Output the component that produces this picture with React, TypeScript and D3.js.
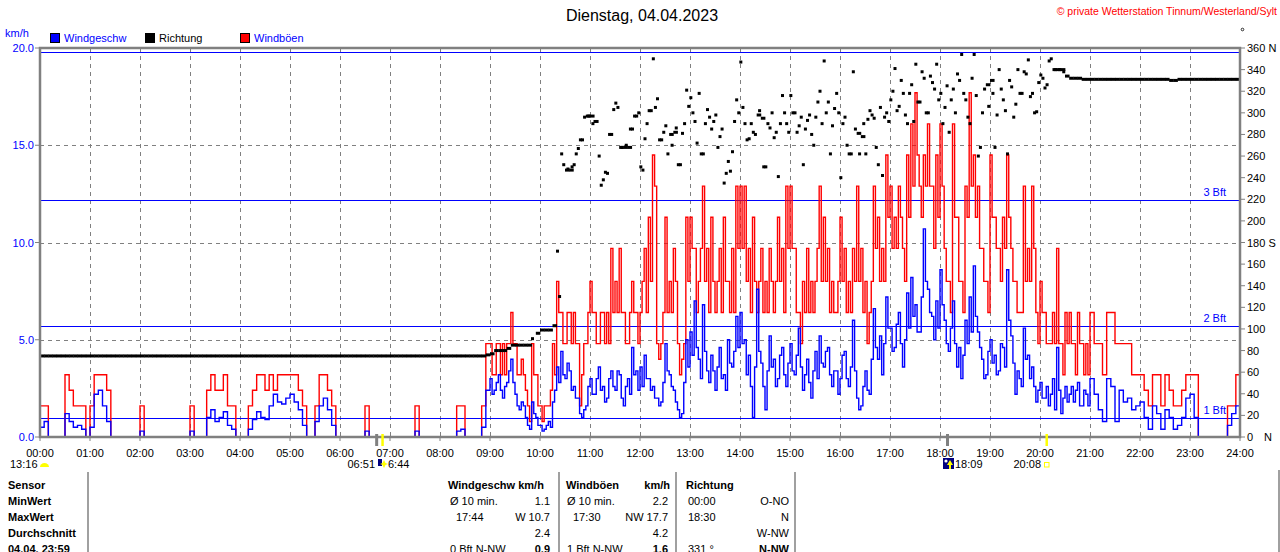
import React from 'react';
import * as d3 from 'd3';

// 5-Minuten-Werte, 00:00 bis 23:55 (je Zeile eine Stunde)
const STEP = 5;

const windboeen = [
  1.6, 1.6, 0, 0, 0, 0, 3.2, 2.4, 1.6, 1.6, 1.6, 0,
  1.6, 3.2, 3.2, 3.2, 2.4, 0, 0, 0, 0, 0, 0, 0,
  1.6, 0, 0, 0, 0, 0, 0, 0, 0, 0, 0, 0,
  1.6, 0, 0, 0, 2.4, 3.2, 2.4, 2.4, 3.2, 1.6, 1.6, 0,
  0, 0, 1.6, 2.4, 3.2, 3.2, 2.4, 3.2, 2.4, 3.2, 3.2, 3.2,
  3.2, 3.2, 2.4, 1.6, 0, 0, 1.6, 3.2, 3.2, 2.4, 1.6, 0,
  0, 0, 0, 0, 0, 0, 1.6, 0, 0, 0, 0, 0,
  0, 0, 0, 0, 0, 0, 1.6, 0, 0, 0, 0, 0,
  0, 0, 0, 0, 1.6, 1.6, 0, 0, 0, 0, 1.6, 4.8,
  4.8, 3.2, 4.8, 4.8, 4.8, 6.4, 4.8, 3.2, 3.2, 1.6, 4.8, 3.2,
  1.6, 1.6, 1.6, 4.8, 8.0, 6.4, 4.8, 6.4, 6.4, 4.8, 3.2, 4.8,
  8.0, 6.4, 4.8, 6.4, 6.4, 9.7, 8.0, 9.7, 6.4, 4.8, 8.0, 6.4,
  6.4, 9.7, 11.3, 14.5, 4.8, 4.8, 11.3, 8.0, 9.7, 4.8, 4.0, 11.3,
  11.3, 9.7, 8.0, 12.9, 9.7, 11.3, 6.4, 9.7, 11.3, 8.0, 9.7, 12.9,
  12.9, 12.9, 9.7, 11.3, 6.4, 9.7, 8.0, 9.7, 6.4, 11.3, 9.7, 12.9,
  12.9, 9.7, 6.4, 8.0, 9.7, 8.0, 8.0, 12.9, 11.3, 9.7, 8.0, 6.4,
  11.3, 9.7, 8.0, 9.7, 12.9, 9.7, 8.0, 6.4, 12.9, 11.3, 9.7, 14.5,
  12.9, 11.3, 12.9, 9.7, 14.5, 16.1, 17.7, 12.9, 14.5, 16.1, 12.9, 14.5,
  16.1, 9.7, 8.0, 16.1, 11.3, 8.0, 12.9, 17.7, 14.5, 12.9, 9.7, 8.0,
  14.5, 11.3, 9.7, 11.3, 14.5, 9.7, 8.0, 6.4, 12.9, 9.7, 12.9, 6.4,
  8.0, 6.4, 4.8, 6.4, 9.7, 4.8, 6.4, 6.4, 4.8, 6.4, 4.8, 4.8,
  6.4, 4.8, 4.8, 3.2, 6.4, 6.4, 4.8, 4.8, 4.8, 4.8, 3.2, 3.2,
  3.2, 2.4, 1.6, 3.2, 3.2, 1.6, 3.2, 2.4, 1.6, 1.6, 2.4, 3.2,
  3.2, 3.2, 0, 0, 0, 0, 0, 0, 0, 1.6, 1.6, 3.2,
];

const windgeschw = [
  0.5, 0.8, 0, 0, 0, 0, 1.2, 0.8, 0.5, 0.6, 0.4, 0,
  0.5, 2.2, 2.4, 1.6, 0.8, 0, 0, 0, 0, 0, 0, 0,
  0.3, 0, 0, 0, 0, 0, 0, 0, 0, 0, 0, 0,
  0.3, 0, 0, 0, 1.0, 1.4, 0.8, 1.0, 1.3, 0.6, 0.4, 0,
  0, 0, 0.4, 0.9, 1.3, 1.0, 0.9, 1.6, 2.2, 1.8, 1.7, 2.0,
  2.2, 1.8, 1.4, 0.6, 0, 0, 0.8, 1.6, 2.0, 1.4, 0.6, 0,
  0, 0, 0, 0, 0, 0, 0.3, 0, 0, 0, 0, 0,
  0, 0, 0, 0, 0, 0, 0.3, 0, 0, 0, 0, 0,
  0, 0, 0, 0, 0.3, 0.4, 0, 0, 0, 0, 0.5, 2.4,
  3.0, 2.4, 3.2, 2.0, 2.8, 4.0, 2.2, 1.4, 1.6, 0.6, 1.8, 1.0,
  0.6, 0.4, 0.8, 1.8, 3.6, 4.4, 3.0, 3.4, 2.6, 2.0, 1.0, 1.6,
  3.0, 2.2, 3.6, 2.6, 2.0, 3.4, 2.4, 3.2, 1.6, 3.0, 4.6, 3.4,
  3.6, 4.2, 3.0, 2.6, 2.0, 1.8, 4.8, 3.2, 2.4, 1.4, 1.2, 5.0,
  5.4, 7.0, 4.0, 6.8, 3.4, 4.2, 2.4, 4.6, 3.2, 5.0, 3.6, 6.2,
  6.4, 5.0, 4.2, 1.0, 7.6, 3.8, 1.4, 5.2, 4.0, 3.0, 4.6, 2.6,
  4.8, 3.2, 5.6, 2.4, 4.0, 2.0, 4.4, 5.2, 3.6, 4.6, 2.6, 3.4,
  3.0, 4.4, 2.6, 6.0, 2.0, 1.6, 3.4, 2.2, 6.6, 4.0, 3.2, 7.2,
  5.6, 4.6, 6.4, 3.6, 7.4, 8.2, 6.8, 5.4, 10.7, 7.6, 6.2, 7.0,
  8.6, 6.0, 4.4, 7.0, 3.6, 3.0, 6.0, 7.2, 8.8, 5.4, 4.0, 3.2,
  5.0, 4.2, 3.4, 4.6, 8.6, 5.2, 2.2, 3.0, 5.6, 4.2, 3.6, 1.8,
  2.8, 2.0, 1.6, 3.0, 4.6, 1.2, 2.6, 2.2, 1.8, 2.8, 1.6, 2.2,
  3.0, 2.2, 1.4, 0.8, 3.0, 2.6, 0.8, 2.4, 1.8, 2.0, 1.4, 1.6,
  1.8, 1.0, 0.4, 1.6, 1.2, 0.4, 1.4, 1.0, 0.4, 0.6, 1.0, 2.0,
  2.2, 1.0, 0, 0, 0, 0, 0, 0, 0, 0.6, 1.2, 1.6,
];

// Zwischenwerte 09:00 - 20:55, jeweils 2,5 min nach dem 5-Minuten-Wert
const zwischenStart = 540;
const boeenZwischen = [
  3.2, 4.8, 3.2, 3.2, 4.8, 4.8, 3.2, 4.0, 2.4, 0.8, 3.2, 1.6,
  0.8, 1.6, 2.4, 3.2, 6.4, 4.8, 6.4, 4.8, 4.8, 1.6, 4.8, 6.4,
  6.4, 4.8, 6.4, 4.8, 4.8, 6.4, 6.4, 6.4, 4.8, 6.4, 6.4, 4.8,
  8.0, 6.4, 8.0, 12.9, 4.0, 6.4, 6.4, 6.4, 8.0, 3.2, 4.8, 8.0,
  9.7, 6.4, 9.7, 8.0, 6.4, 8.0, 8.0, 6.4, 8.0, 6.4, 6.4, 9.7,
  9.7, 8.0, 6.4, 8.0, 8.0, 6.4, 6.4, 8.0, 8.0, 8.0, 6.4, 9.7,
  9.7, 6.4, 4.8, 6.4, 6.4, 6.4, 9.7, 8.0, 8.0, 6.4, 6.4, 8.0,
  8.0, 6.4, 6.4, 8.0, 8.0, 6.4, 4.8, 8.0, 9.7, 8.0, 8.0, 11.3,
  9.7, 9.7, 11.3, 8.0, 11.3, 12.9, 14.5, 11.3, 12.9, 12.9, 9.7, 11.3,
  12.9, 8.0, 6.4, 11.3, 8.0, 6.4, 11.3, 12.9, 11.3, 9.7, 8.0, 6.4,
  11.3, 9.7, 8.0, 9.7, 11.3, 8.0, 6.4, 6.4, 8.0, 8.0, 9.7, 4.8,
  6.4, 4.8, 4.8, 4.8, 4.8, 3.2, 4.8, 4.8, 3.2, 4.8, 3.2, 3.2,
];
const geschwZwischen = [
  2.2, 2.8, 2.4, 2.6, 3.4, 2.8, 1.6, 1.8, 1.0, 0.4, 1.2, 0.6,
  0.3, 0.6, 0.5, 2.4, 2.8, 3.2, 3.8, 2.4, 2.0, 1.2, 1.4, 2.6,
  2.2, 3.0, 2.4, 1.8, 3.0, 2.6, 3.4, 2.0, 2.6, 2.2, 3.2, 2.4,
  2.6, 3.0, 2.4, 2.0, 1.6, 2.8, 3.4, 2.6, 1.8, 1.0, 2.8, 3.6,
  4.2, 4.6, 3.0, 4.4, 2.8, 3.4, 3.6, 3.0, 2.4, 3.8, 4.4, 4.6,
  4.8, 3.2, 2.6, 3.6, 4.4, 2.6, 3.4, 3.6, 2.6, 4.2, 3.2, 3.8,
  3.4, 4.2, 3.6, 3.2, 2.8, 3.4, 3.0, 3.8, 4.4, 3.2, 3.4, 2.2,
  4.2, 3.0, 3.6, 3.4, 1.4, 2.6, 2.4, 4.0, 4.6, 5.2, 4.8, 5.6,
  4.4, 5.8, 4.8, 5.0, 5.6, 6.2, 5.4, 7.2, 8.0, 6.4, 5.0, 5.6,
  6.8, 4.8, 5.6, 4.8, 4.6, 4.2, 4.8, 5.4, 6.2, 4.6, 3.0, 4.4,
  3.8, 3.2, 4.8, 3.6, 6.0, 3.8, 3.4, 2.6, 4.0, 3.0, 2.6, 2.4,
  2.0, 2.6, 2.2, 1.4, 2.4, 2.0, 1.8, 2.6, 2.4, 1.6, 2.4, 1.6,
];

// Richtung in Grad
const richtung = [
  75, 75, 75, 75, 75, 75, 75, 75, 75, 75, 75, 75,
  75, 75, 75, 75, 75, 75, 75, 75, 75, 75, 75, 75,
  75, 75, 75, 75, 75, 75, 75, 75, 75, 75, 75, 75,
  75, 75, 75, 75, 75, 75, 75, 75, 75, 75, 75, 75,
  75, 75, 75, 75, 75, 75, 75, 75, 75, 75, 75, 75,
  75, 75, 75, 75, 75, 75, 75, 75, 75, 75, 75, 75,
  75, 75, 75, 75, 75, 75, 75, 75, 75, 75, 75, 75,
  75, 75, 75, 75, 75, 75, 75, 75, 75, 75, 75, 75,
  75, 75, 75, 75, 75, 75, 75, 75, 75, 75, 75, 76,
  77, 80, 80, 80, 82, 85, 85, 85, 85, 85, 91, 96,
  99, 99, 99, 103, 172, 262, 247, 247, 252, 267, 275, 297,
  297, 292, 260, 238, 244, 280, 309, 268, 268, 268, 285, 297,
  250, 276, 302, 350, 313, 275, 288, 280, 282, 252, 281, 321,
  314, 292, 318, 262, 303, 285, 298, 278, 235, 255, 264, 312,
  347, 290, 276, 282, 298, 295, 250, 286, 277, 241, 316, 290,
  316, 300, 288, 252, 293, 280, 296, 320, 348, 310, 288, 318,
  240, 296, 262, 338, 281, 278, 262, 302, 295, 252, 242, 300,
  312, 341, 306, 318, 290, 326, 345, 310, 332, 300, 328, 345,
  318, 305, 282, 322, 336, 354, 312, 290, 354, 260, 300, 326,
  330, 268, 340, 312, 262, 324, 308, 318, 338, 349, 318, 301,
  335, 323, 348, 340, 340, 340, 334, 332, 332, 332, 331, 331,
  331, 331, 331, 331, 331, 331, 331, 331, 331, 331, 331, 331,
  331, 331, 331, 331, 331, 331, 331, 330, 330, 331, 331, 331,
  331, 331, 331, 331, 331, 331, 331, 331, 331, 331, 331, 331,
];

// zusaetzliche Richtungswerte 10:00 - 20:55, jeweils 2,5 min versetzt
const richtungStart = 600;
const richtungExtra = [
  null, null, null, null, 130, 252, 248, 250, 262, 275, 296, 297,
  290, 292, 233, 245, 280, 303, 305, 268, 270, 285, 297, 300,
  247, 290, 302, 305, 275, 282, 262, 270, 286, 252, 290, 306,
  300, 272, 262, 290, 296, 292, 268, 285, 244, 246, 292, 300,
  305, 275, 290, 280, 302, 250, 290, 300, 282, 290, 300, 282,
  300, 282, 296, 285, 298, 270, 310, 290, 300, 262, 304, 300,
  290, 270, 262, 285, 262, 290, 294, 298, 268, 305, 296, 292,
  320, 302, 330, 298, 318, 292, 310, 338, 300, 334, 322, 312,
  290, 325, 312, 300, 330, 318, 296, 332, 316, 268, 322, 306,
  318, 298, 322, 302, 330, 296, 340, 318, 336, 315, 300, 328,
  332, 326, 350, 340, 340, 338, null, null, null, null, null, null,
];

const kmhTicks = [0, 5, 10, 15, 20];
const gradTicks = d3.range(0, 361, 20);
const bft = [
  { v: 1.0, label: '1 Bft' },
  { v: 5.7, label: '2 Bft' },
  { v: 12.2, label: '3 Bft' },
  { v: 19.8, label: '' },
];

// Sonne / Mond (Minuten)
const mondZeiten = [404, 1089];
const sonnenZeiten = [411, 1208];

const zeilen = ['Sensor', 'MinWert', 'MaxWert', 'Durchschnitt', '04.04.  23:59'];
const spalteWind = [['Ø 10 min.', '1.1'], ['17:44', 'W 10.7'], ['', '2.4'], ['0 Bft N-NW', '0.9']];
const spalteBoeen = [['Ø 10 min.', '2.2'], ['17:30', 'NW 17.7'], ['', '4.2'], ['1 Bft N-NW', '1.6']];
const spalteRichtung = [['00:00', 'O-NO'], ['18:30', 'N'], ['', 'W-NW'], ['331 °', 'N-NW']];

const FONT = '"Liberation Sans", Arial, sans-serif';
const GRID = '#808080';

// 5-Minuten-Werte und Zwischenwerte zu einer Zeitreihe zusammenfuehren
function reihe(haupt: number[], zw: number[]): [number, number][] {
  const pts: [number, number][] = [];
  haupt.forEach((v, i) => {
    const t = i * STEP;
    pts.push([t, v]);
    const j = (t - zwischenStart) / STEP;
    if (j >= 0 && j < zw.length) pts.push([t + STEP / 2, zw[j]]);
  });
  pts.push([1440, haupt[haupt.length - 1]]);
  return pts;
}

export default function App() {
  const x = d3.scaleLinear().domain([0, 1440]).range([40, 1240]);
  const y = d3.scaleLinear().domain([0, 20]).range([437, 48]);
  const yDir = d3.scaleLinear().domain([0, 360]).range([437, 48]);

  const stepLine = d3
    .line<[number, number]>()
    .x((d) => x(d[0]))
    .y((d) => y(d[1]))
    .curve(d3.curveStepAfter);

  const hours = d3.range(0, 25);
  const colX = [
    { l: 450, r: 550, shift: 6 },
    { l: 567, r: 668, shift: 6 },
    { l: 688, r: 789, shift: 0 },
  ];
  const spalten = [spalteWind, spalteBoeen, spalteRichtung];
  const px = (v: number) => Math.round(v) + 0.5;

  return (
    <svg
      width={1280}
      height={552}
      style={{ position: 'absolute', left: 0, top: 0, background: '#fff' }}
      fontFamily={FONT}
      fontSize={11}
    >
      {/* Titel */}
      <text x={642} y={21} textAnchor="middle" fontSize={16}>
        Dienstag, 04.04.2023
      </text>
      <text x={1277} y={15} textAnchor="end" fill="#ff0000" fontSize={10.5}>
        © private Wetterstation Tinnum/Westerland/Sylt
      </text>
      <circle cx={1242.5} cy={29.5} r={1.3} fill="none" stroke="#000" strokeWidth={0.8} />

      {/* Legende */}
      <text x={5} y={37} fill="#0000ff">km/h</text>
      <rect x={50.5} y={33.5} width={9} height={9} fill="#0000ff" stroke="#000" />
      <text x={64} y={42} fill="#0000ff">Windgeschw</text>
      <rect x={145.5} y={33.5} width={9} height={9} fill="#000" stroke="#000" />
      <text x={159} y={42} fill="#000">Richtung</text>
      <rect x={240.5} y={33.5} width={9} height={9} fill="#ff0000" stroke="#000" />
      <text x={254} y={42} fill="#0000ff">Windböen</text>

      {/* Gitter */}
      {hours.slice(1, 24).map((h) => (
        <line key={'v' + h} x1={px(x(h * 60))} x2={px(x(h * 60))} y1={48} y2={437}
          stroke={GRID} strokeDasharray="4,4" />
      ))}
      {kmhTicks.slice(1, 4).map((k) => (
        <line key={'h' + k} x1={40} x2={1240} y1={px(y(k))} y2={px(y(k))}
          stroke={GRID} strokeDasharray="4,4" />
      ))}
      {bft.map((b) => (
        <g key={b.v}>
          <line x1={40} x2={1240} y1={px(y(b.v))} y2={px(y(b.v))} stroke="#0000ff" strokeWidth={1} />
          {b.label && (
            <text x={1226} y={y(b.v) - 4} textAnchor="end" fill="#0000ff">{b.label}</text>
          )}
        </g>
      ))}

      {/* Daten */}
      <path d={stepLine(reihe(windboeen, boeenZwischen)) || ''} fill="none" stroke="#ff0000" strokeWidth={1.4} />
      <path d={stepLine(reihe(windgeschw, geschwZwischen)) || ''} fill="none" stroke="#0000ff" strokeWidth={1.4} />

      {richtung.map((v, i) => {
        const t = i * STEP;
        const prev = richtung[i - 1];
        const next = richtung[i + 1];
        const flat = (prev !== undefined && Math.abs(v - prev) <= 4) || (next !== undefined && Math.abs(v - next) <= 4);
        return flat ? (
          <rect key={'r' + i} x={x(t)} y={yDir(v) - 1.5} width={x(t + STEP) - x(t) + 0.4} height={3} fill="#000" />
        ) : (
          <rect key={'r' + i} x={x(t + 1) - 1.5} y={yDir(v) - 1.5} width={3} height={3} fill="#000" />
        );
      })}
      {richtungExtra.map((v, i) =>
        v === null ? null : (
          <rect key={'e' + i} x={x(richtungStart + i * STEP + 3.5) - 1.5} y={yDir(v) - 1.5} width={3} height={3} fill="#000" />
        )
      )}

      {/* Rahmen */}
      <rect x={40} y={48} width={1200} height={389} fill="none" stroke={GRID} strokeWidth={2.5} />

      {/* linke Achse */}
      {kmhTicks.map((k) => (
        <g key={'l' + k}>
          <line x1={35} x2={40} y1={y(k)} y2={y(k)} stroke={GRID} />
          <text x={34} y={y(k) + 4} textAnchor="end" fill="#0000ff">{k.toFixed(1)}</text>
        </g>
      ))}

      {/* rechte Achse */}
      {gradTicks.map((g) => (
        <g key={'g' + g}>
          <line x1={1240} x2={1245} y1={yDir(g)} y2={yDir(g)} stroke={GRID} />
          <text x={1247} y={yDir(g) + 4}>
            {g === 360 ? '360 N' : g === 180 ? '180 S' : String(g)}
          </text>
        </g>
      ))}
      <text x={1264} y={yDir(0) + 4}>N</text>

      {/* Zeitachse */}
      {hours.map((h) => (
        <g key={'t' + h}>
          <line x1={x(h * 60)} x2={x(h * 60)} y1={437} y2={441} stroke={GRID} />
          <text x={x(h * 60)} y={457} textAnchor="middle">
            {String(h).padStart(2, '0')}:00
          </text>
        </g>
      ))}

      {/* Sonne & Mond */}
      {mondZeiten.map((m) => (
        <rect key={'m' + m} x={x(m) - 1.5} y={434} width={3} height={12} fill={GRID} />
      ))}
      {sonnenZeiten.map((m) => (
        <rect key={'s' + m} x={x(m) - 1.2} y={434} width={2.5} height={12} fill="#ffff00" />
      ))}
      <text x={10} y={468}>13:16</text>
      <path d="M40,467 A4.5,4 0 0 1 49,467 Z" fill="#ffff00" />
      <text x={375} y={468} textAnchor="end">06:51</text>
      <rect x={378} y={459} width={4} height={7} fill="#000080" />
      <path d="M384,460 L385.5,463 L388,464 L385.5,465 L384,468 L382.5,465 L380,464 L382.5,463 Z" fill="#ffff00" />
      <text x={388} y={468}>6:44</text>
      <rect x={943} y={458} width={11} height={11} fill="#000080" />
      <circle cx={946} cy={461} r={1.6} fill="#fff" />
      <path d="M950,460 L953,465 L951,465 L951,469 L949,469 L949,465 L947,465 Z" fill="#ffff00" />
      <text x={955} y={468}>18:09</text>
      <text x={1041} y={468} textAnchor="end">20:08</text>
      <rect x={1044.5} y={462.5} width={4.5} height={4.5} fill="none" stroke="#ffff00" />

      {/* Tabelle */}
      {[88, 559, 676, 795].map((lx) => (
        <line key={'tl' + lx} x1={lx} x2={lx} y1={472} y2={552} stroke={GRID} strokeWidth={1.5} />
      ))}
      <line x1={1279} x2={1279} y1={470} y2={552} stroke={GRID} strokeWidth={1.5} />
      {zeilen.map((z, i) => (
        <text key={'z' + i} x={8} y={489 + i * 16} fontWeight="bold">{z}</text>
      ))}
      <text x={448} y={489} fontWeight="bold">Windgeschw km/h</text>
      <text x={566} y={489} fontWeight="bold">Windböen</text>
      <text x={670} y={489} fontWeight="bold" textAnchor="end">km/h</text>
      <text x={686} y={489} fontWeight="bold">Richtung</text>
      {spalten.map((sp, c) =>
        sp.map((cell, r) => {
          const isTime = /^\d\d:\d\d$/.test(cell[0]);
          const bold = r === sp.length - 1;
          return (
            <g key={'c' + c + r}>
              <text x={colX[c].l + (isTime ? colX[c].shift : 0)} y={505 + r * 16}>{cell[0]}</text>
              <text x={colX[c].r} y={505 + r * 16} textAnchor="end" fontWeight={bold ? 'bold' : 'normal'}>
                {cell[1]}
              </text>
            </g>
          );
        })
      )}
    </svg>
  );
}
